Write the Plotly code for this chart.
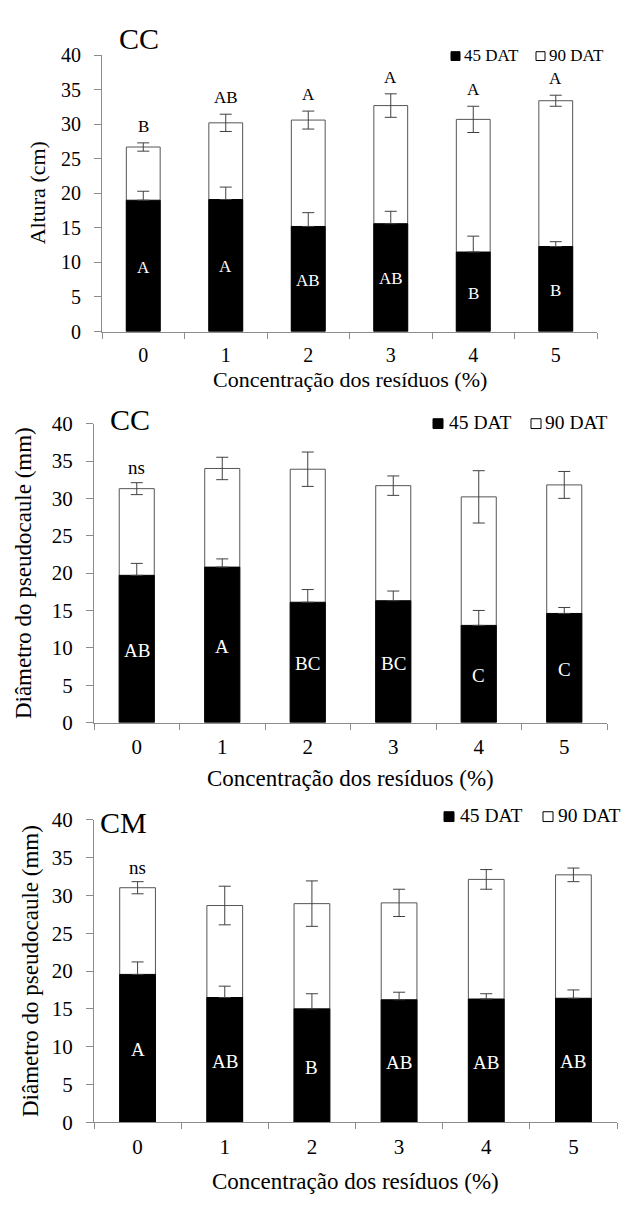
import plotly.graph_objects as go

W, H = 624, 1205
FONT = "Liberation Serif"

categories = ["0", "1", "2", "3", "4", "5"]
tick_labels = ["0", "1", "2", "3", "4", "5"]
series_names = ["45 DAT", "90 DAT"]

# Panel 1 - Altura (cm), CC
p1_45 = [19.0, 19.1, 15.2, 15.6, 11.5, 12.3]
p1_45_err = [1.3, 1.8, 2.0, 1.8, 2.3, 0.7]
p1_90 = [26.7, 30.2, 30.6, 32.7, 30.7, 33.4]
p1_90_err = [0.6, 1.25, 1.3, 1.7, 1.9, 0.8]
p1_top_letters = ["B", "AB", "A", "A", "A", "A"]
p1_in_letters = ["A", "A", "AB", "AB", "B", "B"]

# Panel 2 - Diametro do pseudocaule (mm), CC
p2_45 = [19.7, 20.8, 16.1, 16.3, 13.0, 14.6]
p2_45_err = [1.6, 1.1, 1.7, 1.3, 2.0, 0.8]
p2_90 = [31.3, 34.0, 33.9, 31.7, 30.2, 31.8]
p2_90_err = [0.8, 1.5, 2.3, 1.3, 3.5, 1.8]
p2_top_letters = ["ns", "", "", "", "", ""]
p2_in_letters = ["AB", "A", "BC", "BC", "C", "C"]

# Panel 3 - Diametro do pseudocaule (mm), CM
p3_45 = [19.55, 16.5, 15.0, 16.2, 16.3, 16.4]
p3_45_err = [1.65, 1.5, 2.0, 1.0, 0.7, 1.1]
p3_90 = [31.0, 28.65, 28.9, 29.0, 32.1, 32.7]
p3_90_err = [0.8, 2.55, 3.0, 1.8, 1.3, 0.9]
p3_top_letters = ["ns", "", "", "", "", ""]
p3_in_letters = ["A", "AB", "B", "AB", "AB", "AB"]

panels = [
    dict(d45=p1_45, e45=p1_45_err, d90=p1_90, e90=p1_90_err, top=p1_top_letters,
         inside=p1_in_letters, title="CC", ytitle="Altura (cm)",
         xpx=(102, 597), ypx=(44, 326), tickfont=20, titlefont=22, ytfont=22,
         letterfont=17, legfont=17, toff=2.4, sq=9,
         tpos=(139, 27), leg=[(451, 462), (536, 547)], legy=44, ytx=37, xty=375),
    dict(d45=p2_45, e45=p2_45_err, d90=p2_90, e90=p2_90_err, top=p2_top_letters,
         inside=p2_in_letters, title="CC", ytitle="Diâmetro do pseudocaule (mm)",
         xpx=(94, 607), ypx=(420, 725), tickfont=21, titlefont=23, ytfont=23,
         letterfont=19, legfont=19.5, toff=2.0, sq=10,
         tpos=(130, 416), leg=[(433, 447), (531, 543)], legy=419, ytx=23, xty=782),
    dict(d45=p3_45, e45=p3_45_err, d90=p3_90, e90=p3_90_err, top=p3_top_letters,
         inside=p3_in_letters, title="CM", ytitle="Diâmetro do pseudocaule (mm)",
         xpx=(94, 617), ypx=(824, 1133), tickfont=21, titlefont=23, ytfont=23,
         letterfont=19, legfont=19.5, toff=1.9, sq=10,
         tpos=(123, 827), leg=[(444, 458), (543, 556)], legy=820, ytx=30, xty=1193),
]

fig = go.Figure()
annotations = []
shapes = []
layout = {}
AXC = "#8c8c8c"

for i, p in enumerate(panels, start=1):
    sfx = "" if i == 1 else str(i)
    xa, ya = "x" + sfx, "y" + sfx
    fig.add_trace(go.Bar(
        x=categories, y=p["d90"], xaxis=xa, yaxis=ya, width=0.41,
        marker=dict(color="white", line=dict(color="#555555", width=1)),
        error_y=dict(type="data", array=p["e90"], visible=True, color="#404040",
                     thickness=1, width=6),
        showlegend=False, name=series_names[1]))
    fig.add_trace(go.Bar(
        x=categories, y=p["d45"], xaxis=xa, yaxis=ya, width=0.41,
        marker=dict(color="black", line=dict(color="black", width=1)),
        error_y=dict(type="data", symmetric=False, array=p["e45"],
                     arrayminus=[0] * len(p["e45"]), visible=True, color="#404040",
                     thickness=1, width=6),
        showlegend=False, name=series_names[0]))

    x0, x1 = p["xpx"]
    yt, yb = p["ypx"]
    layout["xaxis" + sfx] = dict(
        domain=[x0 / W, x1 / W], anchor=ya, type="category",
        range=[-0.5, 5.5], tickmode="array", tickvals=categories, ticktext=tick_labels,
        showline=True, linecolor=AXC, linewidth=1, ticks="outside", tickson="boundaries",
        ticklen=6, tickcolor=AXC, showgrid=False, ticklabelstandoff=5,
        tickfont=dict(family=FONT, size=p["tickfont"], color="black"))
    layout["yaxis" + sfx] = dict(
        domain=[1 - yb / H, 1 - yt / H], anchor=xa, range=[0, 40], dtick=5,
        showline=True, linecolor=AXC, linewidth=1, ticks="outside", ticklen=7,
        tickcolor=AXC, showgrid=False, zeroline=False, ticklabelstandoff=9,
        tickfont=dict(family=FONT, size=p["tickfont"], color="black"))

    for c, lab, v, e in zip(categories, p["top"], p["d90"], p["e90"]):
        if lab:
            annotations.append(dict(x=c, y=v + e + p["toff"], xref=xa, yref=ya, text=lab,
                                    showarrow=False, yanchor="middle",
                                    font=dict(family=FONT, size=p["letterfont"], color="black")))
    for c, lab, v in zip(categories, p["inside"], p["d45"]):
        annotations.append(dict(x=c, y=v / 2 - 0.2, xref=xa, yref=ya, text=lab,
                                showarrow=False, yanchor="middle",
                                font=dict(family=FONT, size=p["letterfont"], color="white")))
    # panel label
    annotations.append(dict(x=p["tpos"][0] / W, y=1 - p["tpos"][1] / H, xref="paper",
                            yref="paper", text=p["title"], showarrow=False,
                            xanchor="center", yanchor="middle",
                            font=dict(family=FONT, size=30, color="black")))
    # legend: squares + labels
    sq = p["sq"]
    for (sx, tx), name, fill in zip(p["leg"], series_names, ["black", "white"]):
        cy = p["legy"] + 1
        shapes.append(dict(type="rect", xref="paper", yref="paper",
                           x0=sx / W, x1=(sx + sq) / W,
                           y0=1 - (cy + sq / 2) / H, y1=1 - (cy - sq / 2) / H,
                           fillcolor=fill, line=dict(color="black", width=1)))
        annotations.append(dict(x=tx / W, y=1 - p["legy"] / H, xref="paper", yref="paper",
                                text=name, showarrow=False, xanchor="left", yanchor="middle",
                                font=dict(family=FONT, size=p["legfont"], color="black")))
    # y title
    annotations.append(dict(x=p["ytx"] / W, y=1 - ((yt + yb) / 2) / H, xref="paper",
                            yref="paper", text=p["ytitle"], showarrow=False, textangle=-90,
                            xanchor="center", yanchor="middle",
                            font=dict(family=FONT, size=p["ytfont"], color="black")))
    # x title
    annotations.append(dict(x=((x0 + x1) / 2) / W, y=1 - p["xty"] / H, xref="paper",
                            yref="paper", text="Concentração dos resíduos (%)",
                            showarrow=False, xanchor="center", yanchor="middle",
                            font=dict(family=FONT, size=p["titlefont"], color="black")))

fig.update_layout(
    width=W, height=H, margin=dict(l=0, r=0, t=0, b=0),
    paper_bgcolor="white", plot_bgcolor="white", barmode="overlay",
    annotations=annotations, shapes=shapes, showlegend=False, **layout)

fig.write_html("out.html")
